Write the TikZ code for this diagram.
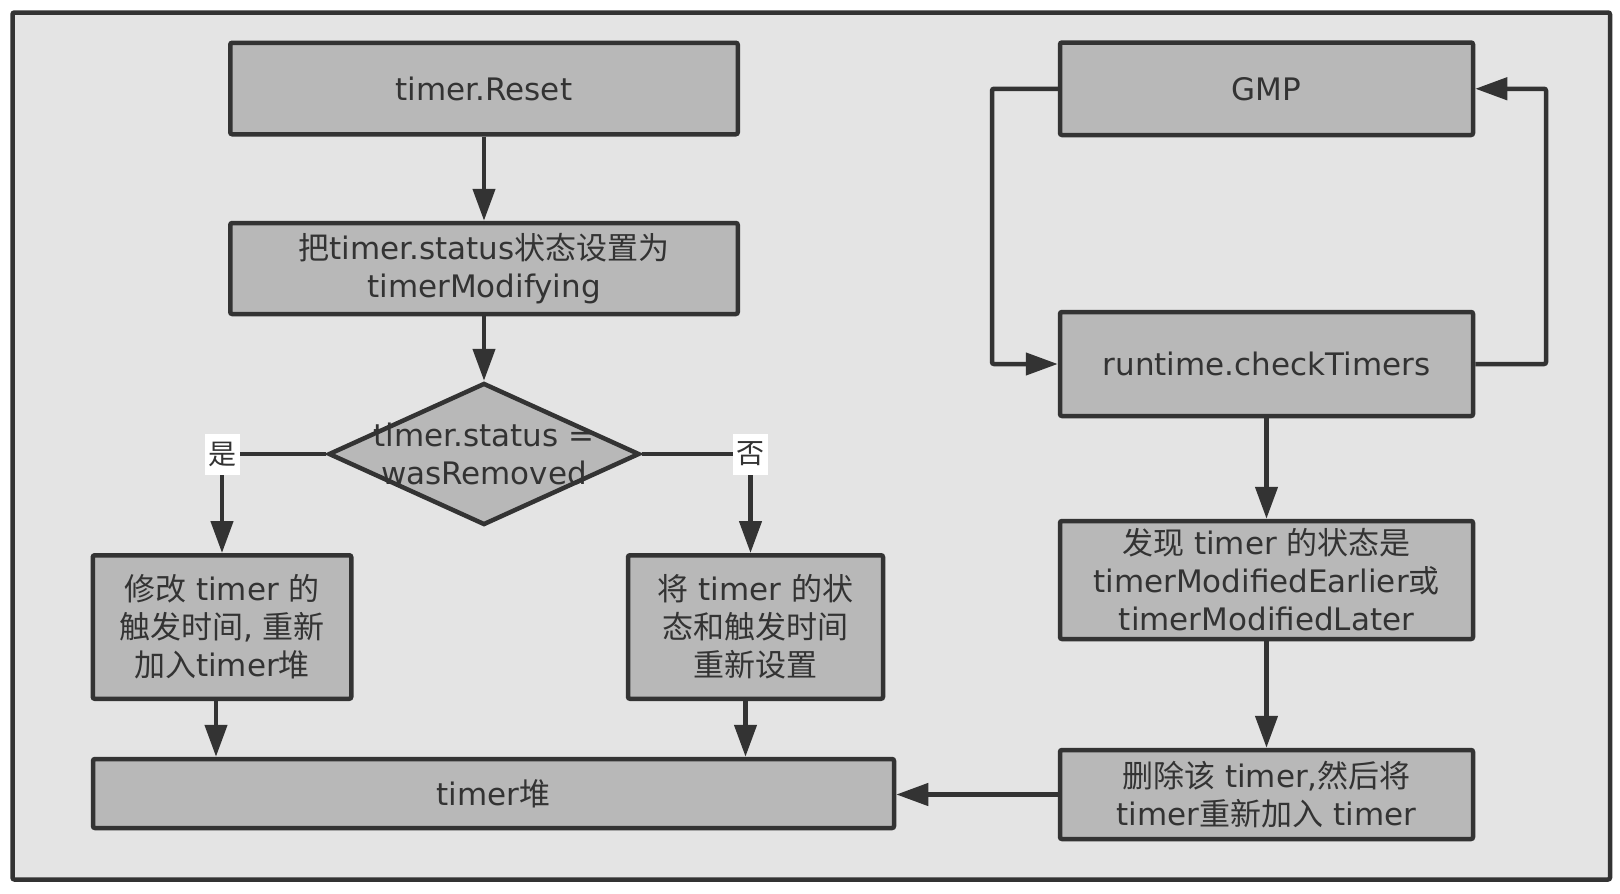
\documentclass[tikz,border=0pt]{standalone}
\usepackage{fontspec}
\setmainfont{DejaVu Sans}
\newfontfamily\cjk{Noto Sans CJK SC}
\usetikzlibrary{arrows.meta,shapes.geometric}
\definecolor{cline}{HTML}{333333}
\definecolor{cbg}{HTML}{E4E4E4}
\definecolor{cbox}{HTML}{B8B8B8}
\newcommand\zh[1]{{\cjk #1}}
\begin{document}
\begin{tikzpicture}[x=1pt,y=-1pt,
  box/.style={draw=cline, fill=cbox, line width=4.5pt, rounded corners=2pt, inner sep=0pt, align=center, text=cline, font=\fontsize{31}{38}\selectfont},
  arr/.style={draw=cline, line width=4.5pt, -{Triangle[length=32pt,width=22pt]}},
  lbl/.style={fill=white, text=cline, inner sep=0pt, minimum width=35pt, minimum height=41pt, font=\fontsize{28}{32}\selectfont\cjk},
  dtext/.style={text=cline, align=center, inner sep=0pt, font=\fontsize{31}{38}\selectfont}]
\useasboundingbox (0,0) rectangle (1620,894);
\draw[draw=cline, fill=cbg, line width=4.5pt, rounded corners=2pt] (12.5,12.5) rectangle (1610,879.5);

% left column
\node[box, minimum width=507.5pt, minimum height=91.5pt] (reset) at (484,88.5) {timer.Reset};
\node[box, minimum width=507.5pt, minimum height=91pt] (stat) at (484,268.5) {\zh{把}timer.status\zh{状态设置为}\\timerModifying};
\node[diamond, draw=cline, fill=cbox, line width=4.5pt, inner sep=0pt, minimum width=311pt, minimum height=142pt] (dia) at (484,454) {};
\node[dtext] (diat) at (dia.center) {timer.status =\\wasRemoved};
\node[box, minimum width=258.5pt, minimum height=143.5pt] (m1) at (222,627) {\zh{修改} timer \zh{的}\\\zh{触发时间}, \zh{重新}\\\zh{加入}timer\zh{堆}};
\node[box, minimum width=255pt, minimum height=143.5pt] (m2) at (755.5,627) {\zh{将} timer \zh{的状}\\\zh{态和触发时间}\\\zh{重新设置}};
\node[box, minimum width=801pt, minimum height=69pt] (heap) at (493.5,793.5) {timer\zh{堆}};

% right column
\node[box, minimum width=413pt, minimum height=92.5pt] (gmp) at (1266.5,88.75) {GMP};
\node[box, minimum width=413pt, minimum height=104pt] (chk) at (1266.5,364) {runtime.checkTimers};
\node[box, minimum width=413pt, minimum height=118pt] (find) at (1266.5,580) {\zh{发现} timer \zh{的状态是}\\timerModifiedEarlier\zh{或}\\timerModifiedLater};
\node[box, minimum width=413pt, minimum height=89pt] (del) at (1266.5,794.5) {\zh{删除该} timer,\zh{然后将}\\timer\zh{重新加入} timer};

\coordinate (L) at (992,0);
\coordinate (R) at (1546,0);

% connectors left
\draw[arr] (reset) -- (stat);
\draw[arr] (stat) -- (dia);
\draw[arr] (dia.west) -| (m1.north);
\node[lbl] (yes) at (m1.north |- dia.west) {是};
\draw[arr] (dia.east) -| ([xshift=-5pt]m2.north);
\node[lbl] (no) at ([xshift=-5pt]m2.north |- dia.east) {否};
\draw[arr] ([xshift=-6pt]m1.south) -- ([xshift=-6pt]m1.south |- heap.north);
\draw[arr] ([xshift=-10pt]m2.south) -- ([xshift=-10pt]m2.south |- heap.north);

% connectors right
\draw[arr, rounded corners=2pt] (gmp.west) -- (gmp.west -| L) -- (chk.west -| L) -- (chk.west);
\draw[arr, rounded corners=2pt] (chk.east) -- (chk.east -| R) -- (gmp.east -| R) -- (gmp.east);
\draw[arr] (chk) -- (find);
\draw[arr] (find) -- (del);
\draw[arr] (del.west) -- (del.west -| heap.east);
\end{tikzpicture}
\end{document}
